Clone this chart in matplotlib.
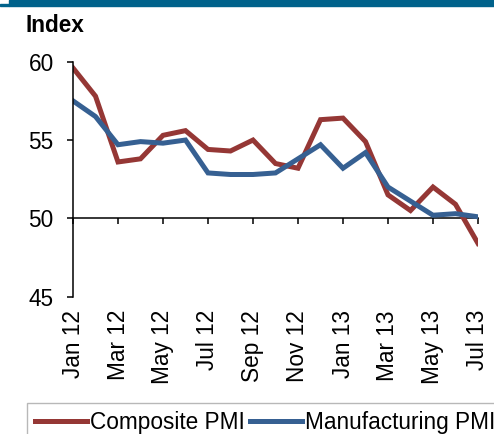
import numpy as np
import matplotlib
matplotlib.use('Agg')
import matplotlib.pyplot as plt
from matplotlib.patches import Rectangle

# monthly data, Jan 12 .. Jul 13
months = ['Jan 12', 'Feb 12', 'Mar 12', 'Apr 12', 'May 12', 'Jun 12', 'Jul 12',
          'Aug 12', 'Sep 12', 'Oct 12', 'Nov 12', 'Dec 12', 'Jan 13', 'Feb 13',
          'Mar 13', 'Apr 13', 'May 13', 'Jun 13', 'Jul 13']
composite = [59.6, 57.8, 53.6, 53.8, 55.3, 55.6, 54.4, 54.3, 55.0, 53.5,
             53.2, 56.3, 56.4, 54.9, 51.5, 50.5, 52.0, 50.9, 48.4]
manufacturing = [57.5, 56.5, 54.7, 54.9, 54.8, 55.0, 52.9, 52.8, 52.8, 52.9,
                 53.8, 54.7, 53.2, 54.2, 52.0, 51.1, 50.2, 50.3, 50.1]
y_ticks = [45, 50, 55, 60]

RED = '#953735'
BLUE = '#366092'
FS = 16.3

plt.rcParams['font.family'] = ['Liberation Sans', 'DejaVu Sans']

W, H = 494, 434
fig = plt.figure(figsize=(W / 100, H / 100), dpi=100)

# header band at the very top
fig.patches.append(Rectangle((9 / W, 1 - 6 / H), 1, 6 / H, transform=fig.transFigure,
                             color='#00628b', zorder=0))
fig.patches.append(Rectangle((0, 1 - 6 / H), 9 / W, 2 / H, transform=fig.transFigure,
                             color='#00628b', zorder=0))

fig.text(25 / W, 1 - 25 / H, 'Index', fontsize=FS, fontweight='bold', va='center', ha='left')

ax = fig.add_axes([73 / W, 1 - 296.7 / H, (478 - 73) / W, (296.7 - 61.7) / H])
x = np.arange(len(months))
ax.plot(x, composite, color=RED, lw=3.6, solid_joinstyle='miter', label='Composite PMI')
ax.plot(x, manufacturing, color=BLUE, lw=3.6, solid_joinstyle='miter', label='Manufacturing PMI')

ax.set_xlim(0, len(months) - 1)
ax.set_ylim(45, 60)
ax.set_yticks(y_ticks)
ax.tick_params(axis='y', labelsize=FS, length=4.3, width=1.1, pad=9.6, direction='out')

for s in ['top', 'right']:
    ax.spines[s].set_visible(False)
ax.spines['left'].set_linewidth(1.1)
ax.spines['bottom'].set_linewidth(1.1)
ax.spines['bottom'].set_position(('data', 50))
ax.spines['bottom'].set_zorder(1)

tick_pos = x[::2]
ax.set_xticks(tick_pos)
ax.tick_params(axis='x', length=4.3, width=1.1, direction='out', labelbottom=False)

# tick labels sit below the plot area
sec = ax.secondary_xaxis('bottom')
sec.set_xticks(tick_pos, [months[i] for i in tick_pos], rotation=90)
sec.tick_params(axis='x', length=0, labelsize=FS, pad=9.6)
sec.spines['bottom'].set_visible(False)

fig.legend(loc='upper left', bbox_to_anchor=(27 / W, 1 - 403 / H), ncol=2,
           fontsize=FS, frameon=True, fancybox=False, edgecolor='#a6a6a6',
           borderaxespad=0, borderpad=0.35, handlelength=2.3, handletextpad=0.15,
           columnspacing=0.2)

fig.savefig('out.png', dpi=100)
